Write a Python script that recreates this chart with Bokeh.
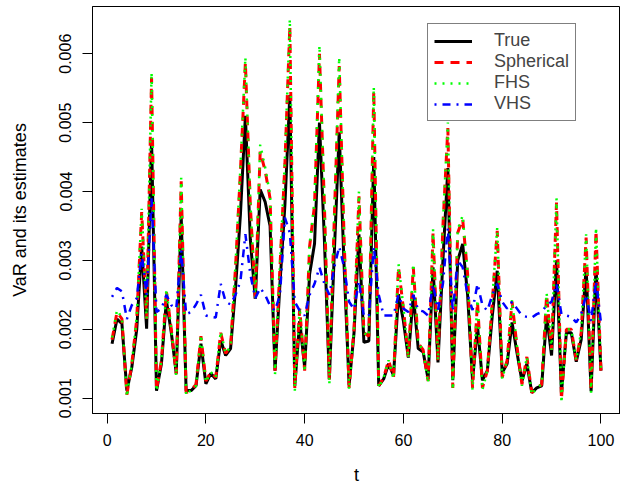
from bokeh.plotting import figure
from bokeh.models import Range1d, FixedTicker, PrintfTickFormatter, Legend, LegendItem
from bokeh.embed import file_html
from bokeh.resources import INLINE

t = list(range(1, 101))

true_var = [
    0.00179, 0.00215, 0.00208, 0.00111, 0.00145, 0.00200, 0.00320, 0.00201, 0.00476, 0.00111,
    0.00150, 0.00242, 0.00195, 0.00136, 0.00365, 0.00111, 0.00111, 0.00118, 0.00179, 0.00121,
    0.00136, 0.00128, 0.00184, 0.00162, 0.00172, 0.00260, 0.00367, 0.00510, 0.00330, 0.00244,
    0.00403, 0.00385, 0.00350, 0.00140, 0.00266, 0.00380, 0.00540, 0.00118, 0.00212, 0.00145,
    0.00280, 0.00324, 0.00500, 0.00330, 0.00128, 0.00310, 0.00486, 0.00290, 0.00119, 0.00195,
    0.00338, 0.00181, 0.00183, 0.00450, 0.00118, 0.00128, 0.00150, 0.00133, 0.00251, 0.00212,
    0.00159, 0.00250, 0.00172, 0.00167, 0.00128, 0.00290, 0.00152, 0.00300, 0.00434, 0.00126,
    0.00300, 0.00324, 0.00250, 0.00126, 0.00205, 0.00126, 0.00140, 0.00220, 0.00285, 0.00137,
    0.00150, 0.00210, 0.00166, 0.00125, 0.00150, 0.00108, 0.00115, 0.00118, 0.00220, 0.00162,
    0.00300, 0.00107, 0.00195, 0.00195, 0.00153, 0.00185, 0.00290, 0.00110, 0.00290, 0.00140,
]

spherical = [
    0.00185, 0.00225, 0.00215, 0.00105, 0.00150, 0.00215, 0.00370, 0.00215, 0.00565, 0.00112,
    0.00155, 0.00255, 0.00200, 0.00135, 0.00415, 0.00108, 0.00112, 0.00120, 0.00190, 0.00125,
    0.00138, 0.00130, 0.00195, 0.00165, 0.00175, 0.00290, 0.00430, 0.00587, 0.00380, 0.00245,
    0.00458, 0.00430, 0.00390, 0.00140, 0.00290, 0.00440, 0.00640, 0.00115, 0.00230, 0.00140,
    0.00320, 0.00380, 0.00600, 0.00380, 0.00125, 0.00360, 0.00582, 0.00330, 0.00115, 0.00200,
    0.00393, 0.00195, 0.00190, 0.00546, 0.00118, 0.00130, 0.00155, 0.00130, 0.00290, 0.00230,
    0.00160, 0.00290, 0.00180, 0.00170, 0.00125, 0.00340, 0.00155, 0.00350, 0.00492, 0.00115,
    0.00340, 0.00360, 0.00280, 0.00115, 0.00240, 0.00115, 0.00140, 0.00240, 0.00343, 0.00130,
    0.00155, 0.00240, 0.00175, 0.00120, 0.00160, 0.00108, 0.00115, 0.00120, 0.00250, 0.00170,
    0.00384, 0.00098, 0.00200, 0.00200, 0.00155, 0.00195, 0.00333, 0.00110, 0.00343, 0.00140,
]

fhs = [
    0.00188, 0.00228, 0.00217, 0.00102, 0.00150, 0.00218, 0.00375, 0.00215, 0.00573, 0.00110,
    0.00155, 0.00258, 0.00200, 0.00132, 0.00420, 0.00104, 0.00112, 0.00118, 0.00192, 0.00123,
    0.00138, 0.00130, 0.00197, 0.00165, 0.00175, 0.00293, 0.00435, 0.00595, 0.00385, 0.00245,
    0.00468, 0.00435, 0.00395, 0.00135, 0.00292, 0.00445, 0.00650, 0.00110, 0.00232, 0.00138,
    0.00322, 0.00385, 0.00612, 0.00385, 0.00120, 0.00362, 0.00595, 0.00333, 0.00112, 0.00200,
    0.00400, 0.00195, 0.00190, 0.00552, 0.00115, 0.00130, 0.00155, 0.00128, 0.00295, 0.00232,
    0.00158, 0.00295, 0.00180, 0.00170, 0.00122, 0.00345, 0.00155, 0.00355, 0.00500, 0.00112,
    0.00345, 0.00365, 0.00282, 0.00112, 0.00243, 0.00112, 0.00140, 0.00243, 0.00348, 0.00128,
    0.00155, 0.00243, 0.00175, 0.00118, 0.00160, 0.00105, 0.00115, 0.00120, 0.00253, 0.00170,
    0.00390, 0.00093, 0.00200, 0.00200, 0.00155, 0.00197, 0.00338, 0.00108, 0.00348, 0.00138,
]

vhs = [
    0.00247, 0.00260, 0.00255, 0.00215, 0.00235, 0.00245, 0.00310, 0.00250, 0.00390, 0.00225,
    0.00230, 0.00250, 0.00235, 0.00230, 0.00315, 0.00222, 0.00225, 0.00236, 0.00250, 0.00220,
    0.00218, 0.00217, 0.00266, 0.00240, 0.00236, 0.00250, 0.00270, 0.00338, 0.00280, 0.00245,
    0.00260, 0.00250, 0.00234, 0.00227, 0.00250, 0.00362, 0.00340, 0.00240, 0.00227, 0.00220,
    0.00250, 0.00266, 0.00290, 0.00266, 0.00250, 0.00290, 0.00320, 0.00290, 0.00240, 0.00229,
    0.00270, 0.00219, 0.00220, 0.00320, 0.00250, 0.00220, 0.00220, 0.00220, 0.00250, 0.00230,
    0.00225, 0.00250, 0.00228, 0.00226, 0.00220, 0.00265, 0.00228, 0.00266, 0.00347, 0.00226,
    0.00300, 0.00290, 0.00250, 0.00228, 0.00266, 0.00235, 0.00227, 0.00250, 0.00266, 0.00240,
    0.00230, 0.00240, 0.00230, 0.00220, 0.00218, 0.00217, 0.00222, 0.00225, 0.00235, 0.00240,
    0.00266, 0.00222, 0.00220, 0.00218, 0.00210, 0.00222, 0.00250, 0.00212, 0.00270, 0.00210,
]

x_ticks = [0, 20, 40, 60, 80, 100]
y_ticks = [0.001, 0.002, 0.003, 0.004, 0.005, 0.006]
legend_labels = ["True", "Spherical", "FHS", "VHS"]

FONT = "Liberation Sans"
TICK_FS = "16px"
LAB_FS = "18px"

p = figure(width=620, height=488, output_backend="svg", toolbar_location=None,
           x_range=Range1d(-2.96, 103.96), y_range=Range1d(0.000778, 0.006685),
           min_border_left=92, min_border_right=0, min_border_top=6, min_border_bottom=75)

p.background_fill_color = "white"
p.border_fill_color = "white"
p.outline_line_color = "black"
p.outline_line_width = 1
p.xgrid.visible = False
p.ygrid.visible = False

r_true = p.line(t, true_var, line_color="black", line_width=3)
r_sph = p.line(t, spherical, line_color="#ff0000", line_width=3, line_dash="9 7")
r_fhs = p.line(t, fhs, line_color="#00ff00", line_width=2.5, line_dash="2 6")
r_vhs = p.line(t, vhs, line_color="#0000ff", line_width=2.5, line_dash="2 6 8 6")

for ax in (p.xaxis[0], p.yaxis[0]):
    ax.axis_line_color = "black"
    ax.major_tick_line_color = "black"
    ax.major_tick_out = 10
    ax.major_tick_in = 0
    ax.minor_tick_line_color = None
    ax.major_label_text_font = FONT
    ax.major_label_text_font_size = TICK_FS
    ax.major_label_text_color = "black"
    ax.axis_label_text_font = FONT
    ax.axis_label_text_font_size = LAB_FS
    ax.axis_label_text_font_style = "normal"
    ax.axis_label_text_color = "black"

p.xaxis.ticker = FixedTicker(ticks=x_ticks)
p.xaxis.axis_label = "t"
p.xaxis.major_label_standoff = 10
p.xaxis.axis_label_standoff = 16

p.yaxis.ticker = FixedTicker(ticks=y_ticks)
p.yaxis.formatter = PrintfTickFormatter(format="%.3f")
p.yaxis.major_label_orientation = "vertical"
p.yaxis.major_label_standoff = 11
p.yaxis.axis_label = "VaR and its estimates"
p.yaxis.axis_label_standoff = 27

items = [LegendItem(label=lab, renderers=[r]) for lab, r in
         zip(legend_labels, [r_true, r_sph, r_fhs, r_vhs])]
legend = Legend(items=items, location=(335, 292))
legend.border_line_color = "black"
legend.border_line_width = 1
legend.background_fill_color = "white"
legend.background_fill_alpha = 1
legend.label_text_font = FONT
legend.label_text_font_size = LAB_FS
legend.glyph_width = 38
legend.glyph_height = 18
legend.label_height = 18
legend.label_standoff = 22
legend.spacing = -4
legend.padding = 6
legend.margin = 0
p.add_layout(legend, "center")

open("out.html", "w").write(file_html(p, INLINE))
